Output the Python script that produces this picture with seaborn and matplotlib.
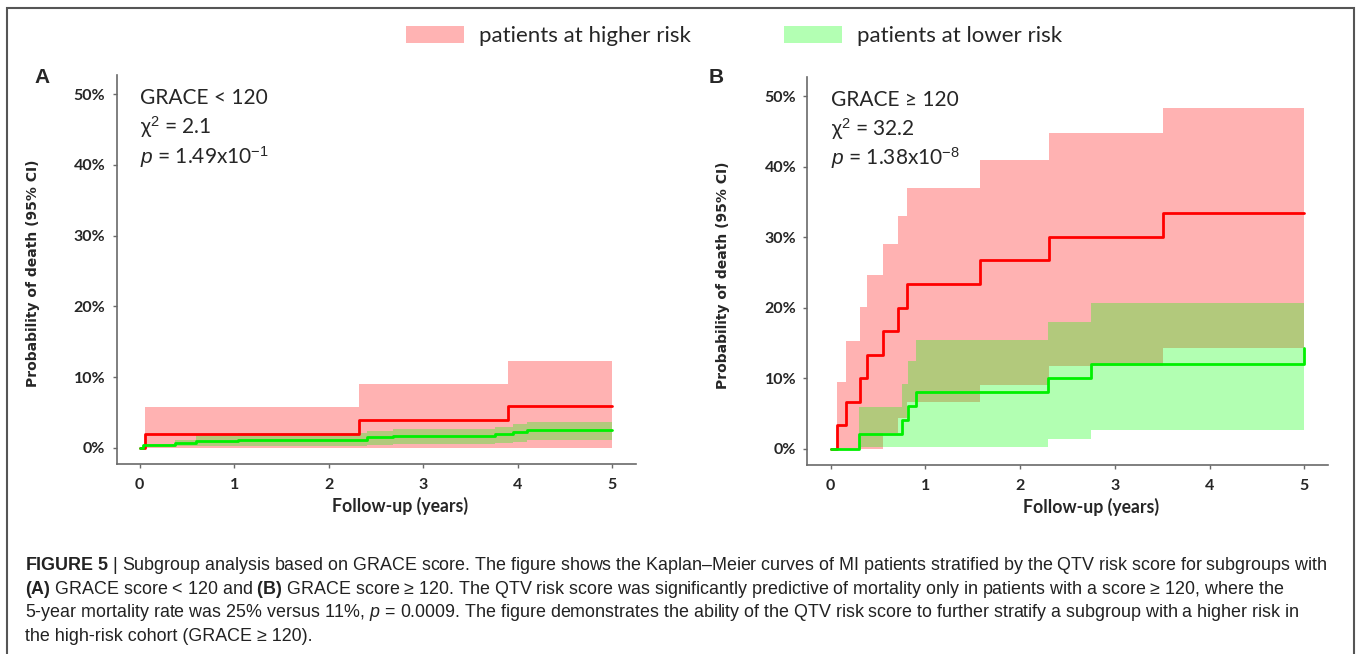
import matplotlib
matplotlib.use('Agg')

import matplotlib.pyplot as plt
import seaborn as sns
from matplotlib.patches import Patch, Rectangle
from matplotlib.ticker import PercentFormatter

# Panel A: GRACE < 120  (cumulative probability of death, %)
a_high_t = [0, 0.06, 2.32, 3.90, 5.0]
a_high = [0, 2.0, 3.95, 5.95, 5.95]
a_high_lo = [0, 0, 0, 0, 0]
a_high_hi = [0, 5.7, 9.05, 12.2, 12.2]

a_low_t = [0, 0.03, 0.37, 0.60, 1.04, 2.40, 2.68, 3.76, 3.95, 4.10, 5.0]
a_low = [0, 0.45, 0.68, 1.0, 1.15, 1.45, 1.7, 1.95, 2.2, 2.45, 2.45]
a_low_lo = [0, 0.2, 0.25, 0.3, 0.3, 0.45, 0.6, 0.65, 0.8, 1.1, 1.1]
a_low_hi = [0, 0.6, 1.05, 1.75, 2.05, 2.35, 2.6, 3.0, 3.3, 3.6, 3.6]

# Panel B: GRACE >= 120
b_high_t = [0, 0.07, 0.16, 0.31, 0.38, 0.55, 0.71, 0.81, 1.58, 2.31, 3.51, 5.0]
b_high = [0, 3.4, 6.7, 10.0, 13.3, 16.7, 20.0, 23.3, 26.7, 30.0, 33.4, 33.4]
b_high_lo = [0, 0, 0, 0, 0, 2.2, 4.4, 6.7, 9.0, 11.7, 14.3, 14.3]
b_high_hi = [0, 9.5, 15.3, 20.1, 24.6, 29.0, 33.0, 37.0, 40.9, 44.8, 48.3, 48.3]

b_low_t = [0, 0.30, 0.75, 0.82, 0.90, 2.29, 2.75, 5.0]
b_low = [0, 2.1, 4.1, 6.1, 8.0, 10.1, 12.0, 14.3]
b_low_lo = [0, 0.3, 0.2, 0.2, 0.3, 1.45, 2.7, 3.8]
b_low_hi = [0, 5.85, 9.2, 12.4, 15.4, 18.0, 20.7, 23.5]

panels = [
    ("A", "GRACE < 120", "χ$^2$ = 2.1", "$p$ = 1.49x10$^{-1}$",
     (a_high_t, a_high, a_high_lo, a_high_hi), (a_low_t, a_low, a_low_lo, a_low_hi)),
    ("B", "GRACE ≥ 120", "χ$^2$ = 32.2", "$p$ = 1.38x10$^{-8}$",
     (b_high_t, b_high, b_high_lo, b_high_hi), (b_low_t, b_low, b_low_lo, b_low_hi)),
]

caption_lines = [
    r"$\mathbf{FIGURE\ 5}$ | Subgroup analysis based on GRACE score. The figure shows the Kaplan–Meier curves of MI patients stratified by the QTV risk score for subgroups with",
    r"$\mathbf{(A)}$ GRACE score < 120 and $\mathbf{(B)}$ GRACE score ≥ 120. The QTV risk score was significantly predictive of mortality only in patients with a score ≥ 120, where the",
    r"5-year mortality rate was 25% versus 11%, $p$ = 0.0009. The figure demonstrates the ability of the QTV risk score to further stratify a subgroup with a higher risk in",
    r"the high-risk cohort (GRACE ≥ 120).",
]

sns.set_theme(style="white")
plt.rcParams['font.family'] = ['Lato', 'DejaVu Sans']
plt.rcParams['mathtext.fontset'] = 'custom'
plt.rcParams['mathtext.rm'] = 'Liberation Sans'
plt.rcParams['mathtext.it'] = 'Liberation Sans:italic'
plt.rcParams['mathtext.bf'] = 'Liberation Sans:bold'

RED = '#ff0000'
GREEN = '#00f000'

fig = plt.figure(figsize=(13.57, 6.54), dpi=100)
axes_pos = [[0.0859, 0.2905, 0.3828, 0.5948], [0.595, 0.289, 0.3836, 0.5933]]

for pos, (letter, t1, t2, t3, hi, lo) in zip(axes_pos, panels):
    ax = fig.add_axes(pos)
    # higher risk: band then curve
    ax.fill_between(hi[0], hi[2], hi[3], step='post', color=RED, alpha=0.3, linewidth=0)
    sns.lineplot(x=hi[0], y=hi[1], drawstyle='steps-post', color=RED, linewidth=2,
                 estimator=None, ax=ax)
    # lower risk drawn on top
    ax.fill_between(lo[0], lo[2], lo[3], step='post', color='#00ff00', alpha=0.3, linewidth=0)
    sns.lineplot(x=lo[0], y=lo[1], drawstyle='steps-post', color=GREEN, linewidth=2,
                 estimator=None, ax=ax)

    ax.set_xlim(-0.245, 5.25)
    ax.set_ylim(-2.3, 52.7)
    ax.set_xticks(range(6))
    ax.set_yticks(range(0, 51, 10))
    ax.yaxis.set_major_formatter(PercentFormatter(decimals=0))
    for s in ['top', 'right']:
        ax.spines[s].set_visible(False)
    for s in ['left', 'bottom']:
        ax.spines[s].set_color('#6a6a6a')
        ax.spines[s].set_linewidth(1.2)
    ax.tick_params(axis='both', direction='out', length=3, width=1, color='#6a6a6a',
                   labelsize=11.5, bottom=True, left=True)
    ax.tick_params(axis='y', pad=5)
    ax.tick_params(axis='x', pad=7)
    for lab in ax.get_xticklabels() + ax.get_yticklabels():
        lab.set_fontweight('bold')

    ax.set_xlabel('Follow-up (years)', fontsize=12.7, fontweight='bold')
    ax.set_ylabel('Probability of death (95% CI)', fontsize=10, fontweight='bold',
                  family='DejaVu Sans')
    ax.xaxis.set_label_coords(0.545, -0.085)
    ax.yaxis.set_label_coords(-0.148, 0.49)

    ax.text(0.046, 0.94, t1, transform=ax.transAxes, fontsize=15, va='center')
    ax.text(0.046, 0.866, t2, transform=ax.transAxes, fontsize=15, va='center')
    ax.text(0.046, 0.79, t3, transform=ax.transAxes, fontsize=15, va='center')

fig.text(0.031, 0.882, 'A', fontsize=15, fontweight='bold', family='Liberation Sans',
         ha='center', va='center')
fig.text(0.528, 0.882, 'B', fontsize=15, fontweight='bold', family='Liberation Sans',
         ha='center', va='center')

handles = [Patch(facecolor='#ffb3b3', edgecolor='none'), Patch(facecolor='#b3ffb3', edgecolor='none')]
fig.legend(handles, ['patients at higher risk', 'patients at lower risk'], loc='center',
           bbox_to_anchor=(0.541, 0.945), ncol=2, frameon=False, fontsize=16,
           handlelength=2.6, handleheight=0.8, handletextpad=0.68, columnspacing=4.2)

for i, line in enumerate(caption_lines):
    fig.text(0.0184, 0.1346 - i * 0.0357, line, fontsize=12.9, family='Liberation Sans',
             va='center', ha='left', color='#222222')

fig.add_artist(Rectangle((7 / 1357, -0.01), 1347 / 1357, 646 / 654 + 0.01,
                         transform=fig.transFigure, fill=False, edgecolor='#555555', linewidth=1.5))

fig.savefig('out.png', dpi=100)
